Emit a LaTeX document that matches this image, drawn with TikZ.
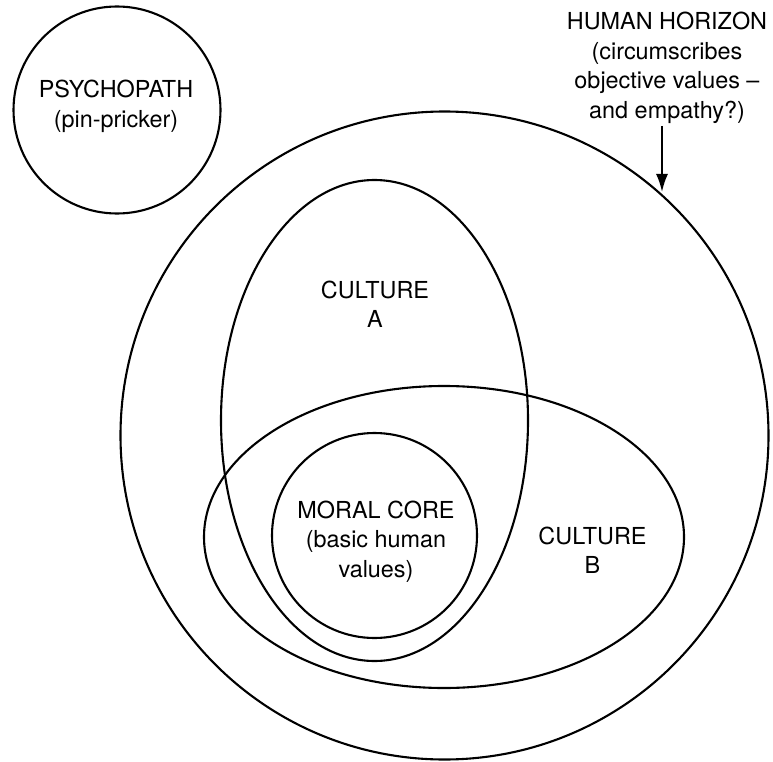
\documentclass[tikz,border=0pt]{standalone}
\usepackage{fontspec}
\setmainfont{TeX Gyre Heros}
\usetikzlibrary{arrows.meta}
\begin{document}
\begin{tikzpicture}[x=1pt,y=-1pt,
  outline/.style={draw=black,line width=2.1pt},
  lbl/.style={align=center,inner sep=0pt,font=\fontsize{23.4}{29.5}\selectfont},
  pointer/.style={line width=2pt,-{Latex[length=18pt,width=12pt]}}]
\useasboundingbox (0,0) rectangle (773,762);
% shapes
\draw[outline] (117,110) circle [radius=103.5pt];
\draw[outline] (444.5,435.5) circle [radius=324pt];
\draw[outline] (374.5,420.5) ellipse [x radius=153.5pt, y radius=240.5pt];
\draw[outline] (444,537) ellipse [x radius=240pt, y radius=151pt];
\draw[outline] (374.5,535.5) circle [radius=102.5pt];
% labels
\node[lbl] (psy) at (116,106.5) {PSYCHOPATH\\(pin-pricker)};
\node[lbl] (hh) at (667,68) {HUMAN HORIZON\\(circumscribes\\objective values –\\and empathy?)};
\node[lbl] (ca) at (375,304.5) {CULTURE\\A};
\node[lbl] (cb) at (592.5,550.5) {CULTURE\\B};
\node[lbl] (mc) at (376,541.5) {MORAL CORE\\(basic human\\values)};
% arrow
\coordinate (arrtop) at (662,126);
\coordinate (arrtip) at (662,192);
\draw[pointer] (arrtop) -- (arrtip);
\end{tikzpicture}
\end{document}
